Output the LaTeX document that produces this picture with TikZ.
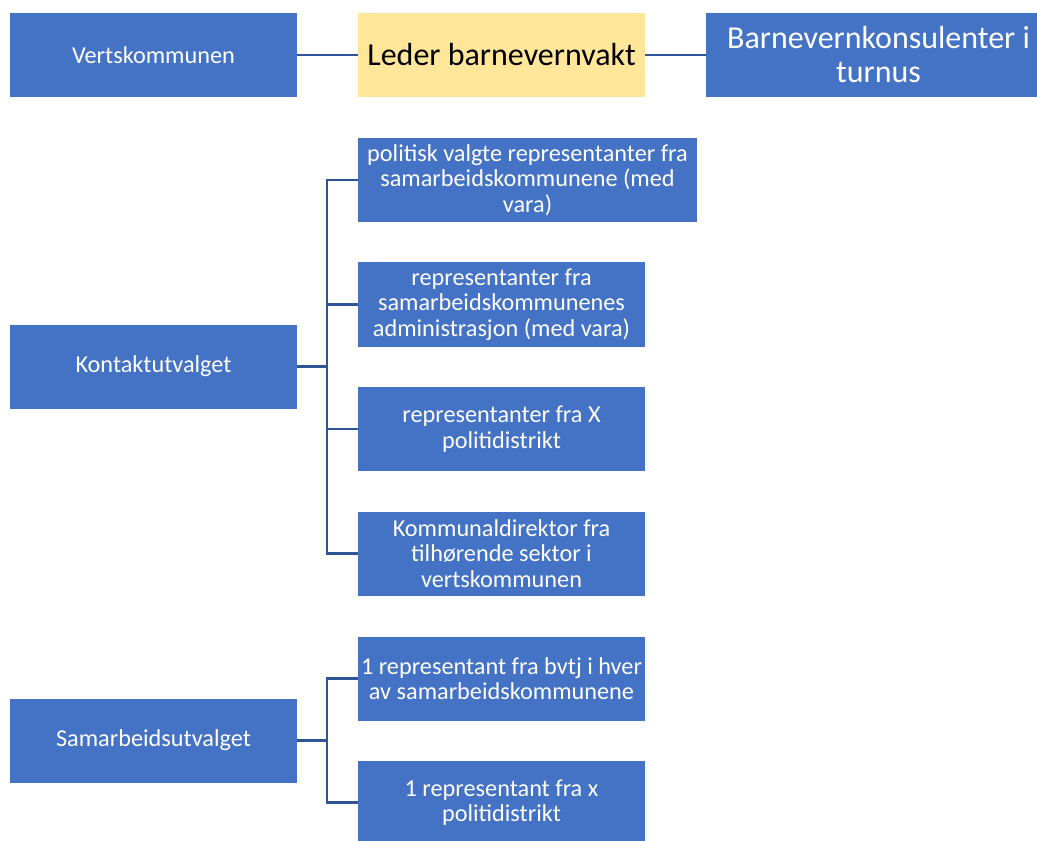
\documentclass[tikz,border=0pt]{standalone}
\usepackage{fontspec}
\setmainfont{Carlito}
\definecolor{boxblue}{HTML}{4472C4}
\definecolor{lineblue}{HTML}{2F5597}
\definecolor{leadyellow}{HTML}{FFE699}
\tikzset{
  unitbox/.style={rectangle, fill=boxblue, draw=none, inner sep=0pt,
    minimum width=215.25pt, minimum height=63pt, align=center,
    text=white, font=\fontsize{18.2}{19}\selectfont},
  widebox/.style={unitbox, minimum width=254.25pt},
  leadbox/.style={unitbox, fill=leadyellow, text=black,
    font=\fontsize{24}{25.5}\selectfont},
  bigbox/.style={unitbox, minimum width=258.75pt,
    font=\fontsize{24}{25.5}\selectfont},
  link/.style={draw=lineblue, line width=2.1pt}
}
\begin{document}
\begin{tikzpicture}[x=0.75pt, y=-0.75pt]
  \clip (0,0) rectangle (1037,841);

  % top row
  \node[unitbox] (vk) at (153.5,55) {Vertskommunen};
  \node[leadbox] (leder) at (501.5,55) {Leder barnevernvakt};
  \node[bigbox] (konsulent) at (878.5,55) {Barnevernkonsulenter i\\turnus};
  \draw[link] (vk.east) -- (leder.west);
  \draw[link] (leder.east) -- (konsulent.west);

  % contact committee
  \node[unitbox] (kontakt) at (153.5,366.5) {Kontaktutvalget};
  \node[widebox] (pol) at (527.5,180) {politisk valgte representanter fra\\samarbeidskommunene (med\\vara)};
  \node[unitbox] (adm) at (501.5,304.5) {representanter fra\\samarbeidskommunenes\\administrasjon (med vara)};
  \node[unitbox] (politi) at (501.5,429) {representanter fra X\\politidistrikt};
  \node[unitbox] (dir) at (501.5,553.5) {Kommunaldirektor fra\\tilhørende sektor i\\vertskommunen};
  \coordinate (kbus) at (327,366.5);
  \draw[link] (kontakt.east) -- (kbus);
  \draw[link] (kbus) |- (pol.west);
  \draw[link] (kbus) |- (adm.west);
  \draw[link] (kbus) |- (politi.west);
  \draw[link] (kbus) |- (dir.west);

  % cooperation committee
  \node[unitbox] (samarbeid) at (153.5,740.5) {Samarbeidsutvalget};
  \node[unitbox] (bvtj) at (501.5,678.5) {1 representant fra bvtj i hver\\av samarbeidskommunene};
  \node[unitbox] (xpoliti) at (501.5,802.5) {1 representant fra x\\politidistrikt};
  \coordinate (sbus) at (327,740.5);
  \draw[link] (samarbeid.east) -- (sbus);
  \draw[link] (sbus) |- (bvtj.west);
  \draw[link] (sbus) |- (xpoliti.west);
\end{tikzpicture}
\end{document}
